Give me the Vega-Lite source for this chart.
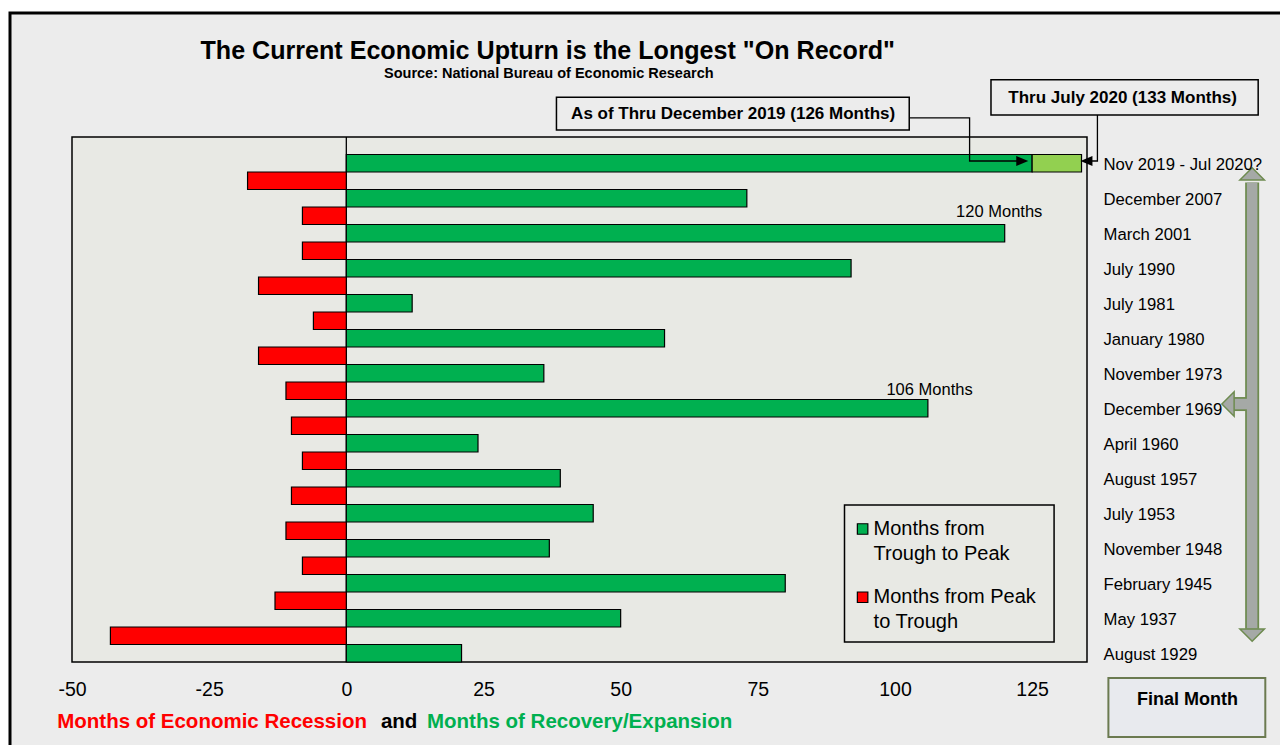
{
  "$schema": "https://vega.github.io/schema/vega-lite/v6.json",
  "width": 1015,
  "height": 525,
  "autosize": {"type": "none"},
  "padding": {"left": 72, "top": 137, "right": 193, "bottom": 83},
  "background": "#ffffff",
  "config": {
    "font": "Liberation Sans",
    "view": {"stroke": null, "fill": null},
    "axis": {"grid": false}
  },
  "datasets": {
    "bars": [
      {"row": "Nov 2019 -  Jul 2020?", "series": "Months from Trough to Peak", "months": 125, "ord": 1},
      {"row": "Nov 2019 -  Jul 2020?", "series": "Through July 2020", "months": 9, "ord": 2},
      {"row": "r1", "series": "Months from Peak to Trough", "months": -18, "ord": 1},
      {"row": "December 2007", "series": "Months from Trough to Peak", "months": 73, "ord": 1},
      {"row": "r2", "series": "Months from Peak to Trough", "months": -8, "ord": 1},
      {"row": "March 2001", "series": "Months from Trough to Peak", "months": 120, "ord": 1},
      {"row": "r3", "series": "Months from Peak to Trough", "months": -8, "ord": 1},
      {"row": "July 1990", "series": "Months from Trough to Peak", "months": 92, "ord": 1},
      {"row": "r4", "series": "Months from Peak to Trough", "months": -16, "ord": 1},
      {"row": "July 1981", "series": "Months from Trough to Peak", "months": 12, "ord": 1},
      {"row": "r5", "series": "Months from Peak to Trough", "months": -6, "ord": 1},
      {"row": "January 1980", "series": "Months from Trough to Peak", "months": 58, "ord": 1},
      {"row": "r6", "series": "Months from Peak to Trough", "months": -16, "ord": 1},
      {"row": "November 1973", "series": "Months from Trough to Peak", "months": 36, "ord": 1},
      {"row": "r7", "series": "Months from Peak to Trough", "months": -11, "ord": 1},
      {"row": "December 1969", "series": "Months from Trough to Peak", "months": 106, "ord": 1},
      {"row": "r8", "series": "Months from Peak to Trough", "months": -10, "ord": 1},
      {"row": "April 1960", "series": "Months from Trough to Peak", "months": 24, "ord": 1},
      {"row": "r9", "series": "Months from Peak to Trough", "months": -8, "ord": 1},
      {"row": "August 1957", "series": "Months from Trough to Peak", "months": 39, "ord": 1},
      {"row": "r10", "series": "Months from Peak to Trough", "months": -10, "ord": 1},
      {"row": "July 1953", "series": "Months from Trough to Peak", "months": 45, "ord": 1},
      {"row": "r11", "series": "Months from Peak to Trough", "months": -11, "ord": 1},
      {"row": "November 1948", "series": "Months from Trough to Peak", "months": 37, "ord": 1},
      {"row": "r12", "series": "Months from Peak to Trough", "months": -8, "ord": 1},
      {"row": "February 1945", "series": "Months from Trough to Peak", "months": 80, "ord": 1},
      {"row": "r13", "series": "Months from Peak to Trough", "months": -13, "ord": 1},
      {"row": "May 1937", "series": "Months from Trough to Peak", "months": 50, "ord": 1},
      {"row": "r14", "series": "Months from Peak to Trough", "months": -43, "ord": 1},
      {"row": "August 1929", "series": "Months from Trough to Peak", "months": 21, "ord": 1}
    ],
    "frame": [{"x1": -61.3, "x2": 176, "y1": -7.09, "y2": 36}],
    "plotArea": [{"x1": -50, "x2": 135, "y1": 0, "y2": 30}],
    "callouts": [
      {"label": "As of Thru December 2019 (126 Months)", "x1": 38.3, "x2": 102.6, "y1": -2.27, "y2": -0.4, "xc": 70.5, "yc": -1.3},
      {"label": "Thru July 2020 (133 Months)", "x1": 117.5, "x2": 166.2, "y1": -3.27, "y2": -1.26, "xc": 141.5, "yc": -2.22}
    ],
    "connectors": [
      {"id": "a", "ord": 1, "x": 102.6, "y": -1.09},
      {"id": "a", "ord": 2, "x": 113.6, "y": -1.09},
      {"id": "a", "ord": 3, "x": 113.6, "y": 1.37},
      {"id": "a", "ord": 4, "x": 122.5, "y": 1.37},
      {"id": "b", "ord": 1, "x": 136.9, "y": -1.26},
      {"id": "b", "ord": 2, "x": 136.9, "y": 1.37},
      {"id": "b", "ord": 3, "x": 135.5, "y": 1.37}
    ],
    "connectorHeads": [
      {"dir": "right-small", "x": 123.2, "y": 1.37},
      {"dir": "left-small", "x": 134.9, "y": 1.37}
    ],
    "bigArrow": [
      {"id": "shaft", "ord": 1, "x": 165.1, "y": 2.6},
      {"id": "shaft", "ord": 2, "x": 165.1, "y": 28.1},
      {"id": "branch", "ord": 1, "x": 165.1, "y": 15.26},
      {"id": "branch", "ord": 2, "x": 161.6, "y": 15.26}
    ],
    "bigArrowHeads": [
      {"dir": "up", "x": 165.1, "y": 2.11},
      {"dir": "down", "x": 165.1, "y": 28.46},
      {"dir": "left", "x": 160.7, "y": 15.26}
    ],
    "peaks": [
      {"label": "120 Months", "x": 119, "y": 4.29},
      {"label": "106 Months", "x": 106.3, "y": 14.46}
    ],
    "legendBox": [{"x1": 90.8, "x2": 129.0, "y1": 21.03, "y2": 28.86}],
    "legendKeys": [
      {"series": "Months from Trough to Peak", "x": 94.1, "y": 22.4},
      {"series": "Months from Peak to Trough", "x": 94.1, "y": 26.3}
    ],
    "legendText": [
      {"label": "Months from", "x": 96.1, "y": 22.4},
      {"label": "Trough to Peak", "x": 96.1, "y": 23.8},
      {"label": "Months from Peak", "x": 96.1, "y": 26.3},
      {"label": "to Trough", "x": 96.1, "y": 27.71}
    ],
    "finalBox": [{"label": "Final Month", "x1": 138.9, "x2": 167.5, "y1": 30.91, "y2": 34.29, "xc": 153.3, "yc": 32.17}],
    "title": [{"label": "The Current Economic Upturn is the Longest \"On Record\"", "x": 36.7, "y": -4.9}],
    "subtitle": [{"label": "Source: National Bureau of Economic Research", "x": 36.9, "y": -3.6}],
    "captionRed": [{"label": "Months of Economic Recession", "x": -52.7, "y": 33.43}],
    "captionAnd": [{"label": "and", "x": 6.3, "y": 33.43}],
    "captionGreen": [{"label": "Months of Recovery/Expansion", "x": 14.7, "y": 33.43}]
  },
  "resolve": {"scale": {"y": "independent"}},
  "layer": [
    {
      "layer": [
        {
          "data": {"name": "frame"},
          "mark": {"type": "rect", "fill": "#ececec", "stroke": "#000000", "strokeWidth": 3},
          "encoding": {
            "x": {"field": "x1", "type": "quantitative", "title": null, "scale": {"domain": [-50, 135], "nice": false, "zero": false}},
            "x2": {"field": "x2"},
            "y": {"field": "y1", "type": "quantitative", "axis": null, "scale": {"domain": [0, 30], "reverse": true, "nice": false, "zero": false}},
            "y2": {"field": "y2"}
          }
        },
        {
          "data": {"name": "plotArea"},
          "mark": {"type": "rect", "fill": "#e8e9e4", "stroke": "#000000", "strokeWidth": 1.5},
          "encoding": {
            "x": {"field": "x1", "type": "quantitative", "title": null, "scale": {"domain": [-50, 135], "nice": false, "zero": false}},
            "x2": {"field": "x2"},
            "y": {"field": "y1", "type": "quantitative", "axis": null, "scale": {"domain": [0, 30], "reverse": true, "nice": false, "zero": false}},
            "y2": {"field": "y2"}
          }
        }
      ]
    },
    {
      "data": {"name": "bars"},
      "layer": [
        {
          "data": {"values": [{}]},
          "mark": {"type": "rule", "color": "#000000", "strokeWidth": 1.3},
          "encoding": {"x": {"datum": 0, "type": "quantitative", "scale": {"domain": [-50, 135], "nice": false, "zero": false}}}
        },
        {
          "mark": {"type": "bar", "stroke": "#000000", "strokeWidth": 1.2},
          "encoding": {
            "y": {
              "field": "row",
              "type": "nominal",
              "scale": {
                "domain": ["r0", "Nov 2019 -  Jul 2020?", "r1", "December 2007", "r2", "March 2001", "r3", "July 1990", "r4", "July 1981", "r5", "January 1980", "r6", "November 1973", "r7", "December 1969", "r8", "April 1960", "r9", "August 1957", "r10", "July 1953", "r11", "November 1948", "r12", "February 1945", "r13", "May 1937", "r14", "August 1929"],
                "paddingInner": 0,
                "paddingOuter": 0
              },
              "axis": {
                "orient": "right",
                "title": null,
                "ticks": false,
                "domain": false,
                "zindex": 3,
                "labelFontSize": 16.7,
                "labelPadding": 16,
                "labelOffset": 2,
                "labelAlign": "left",
                "labelColor": "#000000",
                "labelLimit": 400,
                "labelExpr": "indexof(datum.value, 'r') === 0 && length(datum.value) <= 3 ? '' : datum.label"
              }
            },
            "x": {
              "field": "months",
              "type": "quantitative",
              "stack": "zero",
              "title": null,
              "scale": {"domain": [-50, 135], "nice": false, "zero": false},
              "axis": {
                "values": [-50, -25, 0, 25, 50, 75, 100, 125],
                "ticks": false,
                "domain": false,
                "grid": false,
                "zindex": 3,
                "labelFontSize": 19.5,
                "labelPadding": 18,
                "labelColor": "#000000",
                "labelFlush": false,
                "labelOverlap": false,
                "labelExpr": "datum.value < 0 ? '-' + abs(datum.value) : '' + datum.value"
              }
            },
            "color": {
              "field": "series",
              "type": "nominal",
              "scale": {
                "domain": ["Months from Trough to Peak", "Months from Peak to Trough", "Through July 2020"],
                "range": ["#00b050", "#ff0000", "#92d050"]
              },
              "legend": null
            },
            "order": {"field": "ord", "type": "quantitative"}
          }
        }
      ]
    },
    {
      "layer": [
        {
          "data": {"name": "connectors"},
          "mark": {"type": "line", "color": "#000000", "strokeWidth": 1.3, "strokeCap": "butt"},
          "encoding": {
            "x": {"field": "x", "type": "quantitative", "title": null, "scale": {"domain": [-50, 135], "nice": false, "zero": false}},
            "y": {"field": "y", "type": "quantitative", "axis": null, "scale": {"domain": [0, 30], "reverse": true, "nice": false, "zero": false}},
            "detail": {"field": "id"},
            "order": {"field": "ord", "type": "quantitative"}
          }
        },
        {
          "data": {"name": "connectorHeads"},
          "mark": {"type": "point", "filled": true, "opacity": 1, "size": 144, "color": "#000000"},
          "encoding": {
            "x": {"field": "x", "type": "quantitative", "title": null, "scale": {"domain": [-50, 135], "nice": false, "zero": false}},
            "y": {"field": "y", "type": "quantitative", "axis": null, "scale": {"domain": [0, 30], "reverse": true, "nice": false, "zero": false}},
            "shape": {
              "field": "dir",
              "type": "nominal",
              "legend": null,
              "scale": {
                "domain": ["up", "down", "left", "right-small", "left-small"],
                "range": ["M0,-0.5L1,0.5L-1,0.5Z", "M0,0.5L1,-0.5L-1,-0.5Z", "M-0.5,0L0.5,-1L0.5,1Z", "M1,0L-1,-0.85L-1,0.85Z", "M-1,0L1,-0.85L1,0.85Z"]
              }
            }
          }
        },
        {
          "data": {"name": "callouts"},
          "mark": {"type": "rect", "fill": "#ececec", "stroke": "#000000", "strokeWidth": 1.5},
          "encoding": {
            "x": {"field": "x1", "type": "quantitative", "title": null, "scale": {"domain": [-50, 135], "nice": false, "zero": false}},
            "x2": {"field": "x2"},
            "y": {"field": "y1", "type": "quantitative", "axis": null, "scale": {"domain": [0, 30], "reverse": true, "nice": false, "zero": false}},
            "y2": {"field": "y2"}
          }
        },
        {
          "data": {"name": "callouts"},
          "mark": {"type": "text", "fontWeight": "bold", "fontSize": 17, "color": "#000000", "align": "center", "baseline": "middle"},
          "encoding": {
            "x": {"field": "xc", "type": "quantitative", "title": null, "scale": {"domain": [-50, 135], "nice": false, "zero": false}},
            "y": {"field": "yc", "type": "quantitative", "axis": null, "scale": {"domain": [0, 30], "reverse": true, "nice": false, "zero": false}},
            "text": {"field": "label"}
          }
        },
        {
          "data": {"name": "peaks"},
          "mark": {"type": "text", "fontSize": 16.5, "color": "#000000", "align": "center", "baseline": "middle"},
          "encoding": {
            "x": {"field": "x", "type": "quantitative", "title": null, "scale": {"domain": [-50, 135], "nice": false, "zero": false}},
            "y": {"field": "y", "type": "quantitative", "axis": null, "scale": {"domain": [0, 30], "reverse": true, "nice": false, "zero": false}},
            "text": {"field": "label"}
          }
        },
        {
          "data": {"name": "legendBox"},
          "mark": {"type": "rect", "fill": "#e8e9e4", "stroke": "#000000", "strokeWidth": 1.5},
          "encoding": {
            "x": {"field": "x1", "type": "quantitative", "title": null, "scale": {"domain": [-50, 135], "nice": false, "zero": false}},
            "x2": {"field": "x2"},
            "y": {"field": "y1", "type": "quantitative", "axis": null, "scale": {"domain": [0, 30], "reverse": true, "nice": false, "zero": false}},
            "y2": {"field": "y2"}
          }
        },
        {
          "data": {"name": "legendKeys"},
          "mark": {"type": "square", "filled": true, "opacity": 1, "size": 110, "stroke": "#000000", "strokeWidth": 1.2},
          "encoding": {
            "x": {"field": "x", "type": "quantitative", "title": null, "scale": {"domain": [-50, 135], "nice": false, "zero": false}},
            "y": {"field": "y", "type": "quantitative", "axis": null, "scale": {"domain": [0, 30], "reverse": true, "nice": false, "zero": false}},
            "color": {"field": "series", "type": "nominal", "legend": null}
          }
        },
        {
          "data": {"name": "legendText"},
          "mark": {"type": "text", "fontSize": 20, "color": "#000000", "align": "left", "baseline": "middle"},
          "encoding": {
            "x": {"field": "x", "type": "quantitative", "title": null, "scale": {"domain": [-50, 135], "nice": false, "zero": false}},
            "y": {"field": "y", "type": "quantitative", "axis": null, "scale": {"domain": [0, 30], "reverse": true, "nice": false, "zero": false}},
            "text": {"field": "label"}
          }
        },
        {
          "data": {"name": "bigArrow"},
          "mark": {"type": "line", "color": "#6e8b50", "strokeWidth": 14, "strokeCap": "butt"},
          "encoding": {
            "x": {"field": "x", "type": "quantitative", "title": null, "scale": {"domain": [-50, 135], "nice": false, "zero": false}},
            "y": {"field": "y", "type": "quantitative", "axis": null, "scale": {"domain": [0, 30], "reverse": true, "nice": false, "zero": false}},
            "detail": {"field": "id"},
            "order": {"field": "ord", "type": "quantitative"}
          }
        },
        {
          "data": {"name": "bigArrow"},
          "mark": {"type": "line", "color": "#a5a9a6", "strokeWidth": 10.5, "strokeCap": "butt"},
          "encoding": {
            "x": {"field": "x", "type": "quantitative", "title": null, "scale": {"domain": [-50, 135], "nice": false, "zero": false}},
            "y": {"field": "y", "type": "quantitative", "axis": null, "scale": {"domain": [0, 30], "reverse": true, "nice": false, "zero": false}},
            "detail": {"field": "id"},
            "order": {"field": "ord", "type": "quantitative"}
          }
        },
        {
          "data": {"name": "bigArrowHeads"},
          "mark": {"type": "point", "filled": true, "opacity": 1, "size": 600, "fill": "#a5a9a6", "stroke": "#6e8b50", "strokeWidth": 1.5},
          "encoding": {
            "x": {"field": "x", "type": "quantitative", "title": null, "scale": {"domain": [-50, 135], "nice": false, "zero": false}},
            "y": {"field": "y", "type": "quantitative", "axis": null, "scale": {"domain": [0, 30], "reverse": true, "nice": false, "zero": false}},
            "shape": {"field": "dir", "type": "nominal", "legend": null}
          }
        },
        {
          "data": {"name": "finalBox"},
          "mark": {"type": "rect", "fill": "#e8eaee", "stroke": "#6b7a50", "strokeWidth": 2},
          "encoding": {
            "x": {"field": "x1", "type": "quantitative", "title": null, "scale": {"domain": [-50, 135], "nice": false, "zero": false}},
            "x2": {"field": "x2"},
            "y": {"field": "y1", "type": "quantitative", "axis": null, "scale": {"domain": [0, 30], "reverse": true, "nice": false, "zero": false}},
            "y2": {"field": "y2"}
          }
        },
        {
          "data": {"name": "finalBox"},
          "mark": {"type": "text", "fontWeight": "bold", "fontSize": 18, "color": "#000000", "align": "center", "baseline": "middle"},
          "encoding": {
            "x": {"field": "xc", "type": "quantitative", "title": null, "scale": {"domain": [-50, 135], "nice": false, "zero": false}},
            "y": {"field": "yc", "type": "quantitative", "axis": null, "scale": {"domain": [0, 30], "reverse": true, "nice": false, "zero": false}},
            "text": {"field": "label"}
          }
        },
        {
          "data": {"name": "title"},
          "mark": {"type": "text", "fontWeight": "bold", "fontSize": 25.1, "color": "#000000", "align": "center", "baseline": "middle"},
          "encoding": {
            "x": {"field": "x", "type": "quantitative", "title": null, "scale": {"domain": [-50, 135], "nice": false, "zero": false}},
            "y": {"field": "y", "type": "quantitative", "axis": null, "scale": {"domain": [0, 30], "reverse": true, "nice": false, "zero": false}},
            "text": {"field": "label"}
          }
        },
        {
          "data": {"name": "subtitle"},
          "mark": {"type": "text", "fontWeight": "bold", "fontSize": 14.5, "color": "#000000", "align": "center", "baseline": "middle"},
          "encoding": {
            "x": {"field": "x", "type": "quantitative", "title": null, "scale": {"domain": [-50, 135], "nice": false, "zero": false}},
            "y": {"field": "y", "type": "quantitative", "axis": null, "scale": {"domain": [0, 30], "reverse": true, "nice": false, "zero": false}},
            "text": {"field": "label"}
          }
        },
        {
          "data": {"name": "captionRed"},
          "mark": {"type": "text", "fontWeight": "bold", "fontSize": 20.5, "color": "#ff0000", "align": "left", "baseline": "middle"},
          "encoding": {
            "x": {"field": "x", "type": "quantitative", "title": null, "scale": {"domain": [-50, 135], "nice": false, "zero": false}},
            "y": {"field": "y", "type": "quantitative", "axis": null, "scale": {"domain": [0, 30], "reverse": true, "nice": false, "zero": false}},
            "text": {"field": "label"}
          }
        },
        {
          "data": {"name": "captionAnd"},
          "mark": {"type": "text", "fontWeight": "bold", "fontSize": 20.5, "color": "#000000", "align": "left", "baseline": "middle"},
          "encoding": {
            "x": {"field": "x", "type": "quantitative", "title": null, "scale": {"domain": [-50, 135], "nice": false, "zero": false}},
            "y": {"field": "y", "type": "quantitative", "axis": null, "scale": {"domain": [0, 30], "reverse": true, "nice": false, "zero": false}},
            "text": {"field": "label"}
          }
        },
        {
          "data": {"name": "captionGreen"},
          "mark": {"type": "text", "fontWeight": "bold", "fontSize": 20.5, "color": "#00b050", "align": "left", "baseline": "middle"},
          "encoding": {
            "x": {"field": "x", "type": "quantitative", "title": null, "scale": {"domain": [-50, 135], "nice": false, "zero": false}},
            "y": {"field": "y", "type": "quantitative", "axis": null, "scale": {"domain": [0, 30], "reverse": true, "nice": false, "zero": false}},
            "text": {"field": "label"}
          }
        }
      ]
    }
  ]
}
